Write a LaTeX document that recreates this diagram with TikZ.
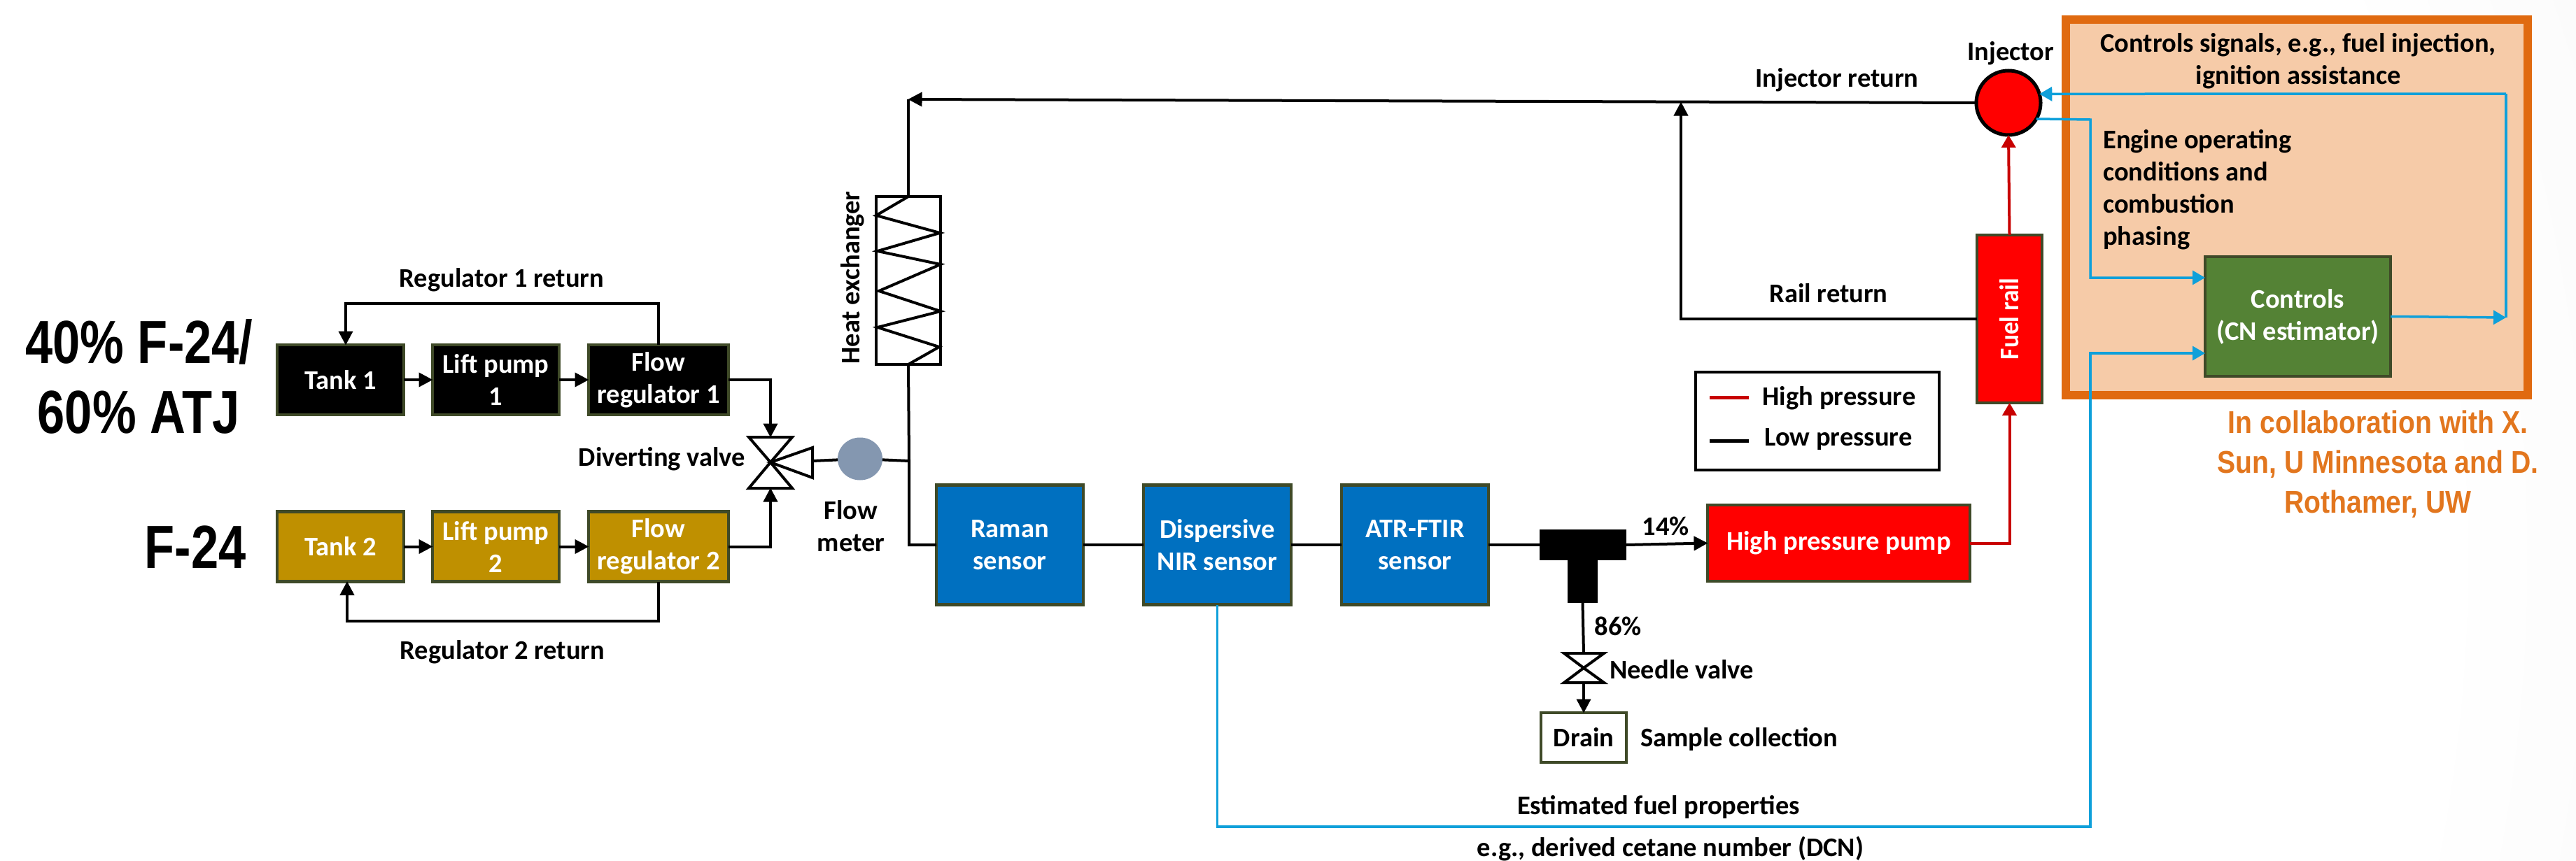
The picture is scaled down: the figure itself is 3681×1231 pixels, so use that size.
\documentclass[tikz,border=0pt]{standalone}
\usepackage{fontspec}
\setmainfont{Carlito}
\newfontfamily\narrowbold[FakeStretch=0.81]{Liberation Sans Bold}
\newfontfamily\orangebold[FakeStretch=0.87]{Liberation Sans Bold}
\usetikzlibrary{arrows.meta,shapes.geometric}
\definecolor{boxedge}{HTML}{3F4A28}
\definecolor{orangeedge}{HTML}{E06A10}
\definecolor{orangefill}{HTML}{F6CBA8}
\definecolor{orangetext}{HTML}{E2761E}
\definecolor{sigblue}{HTML}{0FA0DA}
\definecolor{hpred}{HTML}{C80000}
\definecolor{sensorblue}{HTML}{0070C0}
\definecolor{gold}{HTML}{BF9000}
\definecolor{ctrlgreen}{HTML}{548235}
\definecolor{metergrey}{HTML}{8497B0}
\pgfdeclareradialshading{bgshade}{\pgfpoint{0bp}{0bp}}{color(0bp)=(white); color(21bp)=(white); color(50bp)=(black!14)}
\tikzset{
  lab/.style={font=\bfseries\fontsize{38.5}{46}\selectfont,inner sep=0pt,align=center},
  leftlab/.style={lab,align=left,anchor=west},
  block/.style={draw=boxedge,line width=4.5pt,inner sep=0pt,outer sep=0pt,text=white,align=center,font=\bfseries\fontsize{38.5}{46}\selectfont},
  blackblock/.style={block,fill=black},
  goldblock/.style={block,fill=gold},
  sensorblock/.style={block,fill=sensorblue},
  redblock/.style={block,fill=red},
  pipe/.style={draw=black,line width=4pt},
  arr/.style={pipe,-{Triangle[length=20pt,width=20pt]},shorten >=-0.5pt},
  hparr/.style={draw=hpred,line width=4pt,-{Triangle[length=18pt,width=20pt]}},
  sigarr/.style={draw=sigblue,line width=3.5pt,-{Triangle[length=18pt,width=20pt]}},
  sigline/.style={draw=sigblue,line width=3.5pt},
  valveline/.style={draw=black,line width=4pt,line join=miter},
  headtext/.style={font=\narrowbold\fontsize{87}{100}\selectfont,inner sep=0pt,align=center},
  creditlab/.style={font=\orangebold\fontsize{45}{57}\selectfont,text=orangetext,inner sep=0pt,align=center},
}
\begin{document}
\begin{tikzpicture}[x=1pt,y=-1pt]
\useasboundingbox (0,0) rectangle (3681,1231);
\begin{scope}
\clip (0,0) rectangle (3681,1231);
\shade[shading=bgshade] (1300,800) circle (2600);
\end{scope}

% controls panel
\node[draw=orangeedge,fill=orangefill,line width=12pt,minimum width=660pt,minimum height=537pt,inner sep=0pt] (panel) at (3282,296.5) {};

% blocks
\node[blackblock,minimum width=181pt,minimum height=100pt] (tank1) at (486.5,543) {Tank 1};
\node[blackblock,minimum width=181pt,minimum height=100pt] (lift1) at (708.5,543) {Lift pump\\1};
\node[blackblock,minimum width=200pt,minimum height=100pt] (reg1) at (941,543) {Flow\\regulator 1};
\node[goldblock,minimum width=181pt,minimum height=100pt] (tank2) at (486.5,781.5) {Tank 2};
\node[goldblock,minimum width=181pt,minimum height=100pt] (lift2) at (708.5,781.5) {Lift pump\\2};
\node[goldblock,minimum width=200pt,minimum height=100pt] (reg2) at (941,781.5) {Flow\\regulator 2};
\node[sensorblock,minimum width=210pt,minimum height=171pt] (raman) at (1443,779) {Raman\\sensor};
\node[sensorblock,minimum width=211pt,minimum height=171pt] (disp) at (1739.5,779) {Dispersive\\NIR sensor};
\node[sensorblock,minimum width=210pt,minimum height=171pt] (atr) at (2022,779) {ATR-FTIR\\sensor};
\node[redblock,minimum width=375pt,minimum height=109pt] (hpp) at (2627.5,776.5) {High pressure pump};
\node[redblock,minimum width=93pt,minimum height=240pt] (rail) at (2871.5,456) {\rotatebox{90}{\scalebox{0.92}[1]{Fuel rail}}};
\node[block,fill=ctrlgreen,minimum width=265pt,minimum height=171pt] (ctrl) at (3283.5,452.5) {Controls\\(CN estimator)};
\node[block,fill=white,text=black,minimum width=122pt,minimum height=71pt] (drain) at (2263,1054.5) {Drain};
\node[circle,draw=black,fill=red,line width=5pt,minimum size=92pt,inner sep=0pt,outer sep=0pt] (inj) at (2870,147) {};
\node[ellipse,fill=metergrey,minimum width=64pt,minimum height=61pt,inner sep=0pt,outer sep=0pt] (meter) at (1229,656) {};
\node[draw=black,line width=4pt,minimum width=92pt,minimum height=240pt,inner sep=0pt,outer sep=0pt] (hx) at (1298,401) {};
\node[fill=black,minimum width=124pt,minimum height=44pt,inner sep=0pt,outer sep=0pt] (teetop) at (2262,779) {};
\node[fill=black,minimum width=43pt,minimum height=61pt,inner sep=0pt,outer sep=0pt] (teestem) at (2261.5,831.5) {};
\node[draw=black,fill=white,line width=4pt,minimum width=348pt,minimum height=140pt,inner sep=0pt,outer sep=0pt] (legend) at (2597,602) {};

% heat exchanger coil
\draw[line width=4pt] (1298,281) -- (1252,308) -- (1343,333) -- (1254,359) -- (1344,378) -- (1256,416) -- (1344,445) -- (1254,468) -- (1342,496) -- (1298,521);

% diverting valve
\coordinate (vtop) at (1101,625);
\coordinate (vbot) at (1101,698);
\coordinate (vmid) at (1101,661);
\coordinate (vout) at (1161,659);
\draw[valveline] (1070,625) -- (1132,625) -- (vmid) -- cycle;
\draw[valveline] (1070,698) -- (1132,698) -- (vmid) -- cycle;
\draw[valveline] (1161,640) -- (1161,683) -- (vmid) -- cycle;

% needle valve
\coordinate (ntop) at (2263,934);
\coordinate (nbot) at (2263,976);
\coordinate (nmid) at (2263,955);
\draw[valveline] (2235,934) -- (2292,934) -- (nmid) -- cycle;
\draw[valveline] (2235,976) -- (2292,976) -- (nmid) -- cycle;

% feed lines
\draw[arr] (tank1) -- (lift1);
\draw[arr] (lift1) -- (reg1);
\draw[arr] (tank2) -- (lift2);
\draw[arr] (lift2) -- (reg2);
\draw[arr] (reg1.east) -| (vtop);
\draw[arr] (reg2.east) -| (vbot);
\coordinate (r1) at (494,434);
\coordinate (r2) at (496,888);
\draw[arr] (reg1.north) |- (r1) -- (tank1.north -| r1);
\draw[arr] (reg2.south) |- (r2) -- (tank2.south -| r2);

% main line
\coordinate (junction) at (1299,659);
\coordinate (corner) at (1298,142);
\draw[pipe] (vout) -- (meter);
\draw[pipe] (meter) -- (junction);
\draw[pipe] (hx.south) -- (junction) |- (raman.west);
\draw[pipe] (raman) -- (disp);
\draw[pipe] (disp) -- (atr);
\draw[pipe] (atr) -- (teetop);
\draw[arr] (teetop.east) -- (hpp.west);
\draw[pipe] (teestem.south) -- (ntop);
\draw[arr] (nbot) -- (drain.north);
\draw[pipe] (hx.north) -- (corner);
\draw[arr] (inj.west) -- (corner);
\coordinate (railjoin) at (2402,146);
\draw[arr] (rail.west) -| (railjoin);

% high pressure
\draw[hparr] (hpp.east) -| (rail.south);
\draw[hparr] (rail.north) -- (inj.south);

% signals
\coordinate (s1) at (2987,171);
\coordinate (s2) at (3151,397);
\draw[sigarr] (inj.-30) -- (s1) |- (ctrl.west |- s2);
\coordinate (s3) at (3581,454);
\coordinate (s4) at (3581,134);
\draw[sigarr] (ctrl.east) -- (s3);
\draw[sigline] (s3) -- (s4);
\draw[sigarr] (s4) -- (inj.16);
\coordinate (s5) at (2987,1182);
\coordinate (s6) at (3151,505);
\draw[sigarr] (disp.south) |- (s5) |- (ctrl.west |- s6);

% legend lines
\coordinate (la) at (2443,568);
\coordinate (lb) at (2499,568);
\coordinate (lc) at (2443,630);
\coordinate (ld) at (2499,630);
\draw[draw=hpred,line width=5pt] (la) -- (lb);
\draw[pipe,line width=5pt] (lc) -- (ld);

% labels
\node[lab] (lreg1) at (717,400) {Regulator 1 return};
\node[lab] (lreg2) at (718,932) {Regulator 2 return};
\node[lab] (ldiv) at (946,656) {Diverting valve};
\node[lab] (lmeter) at (1216,752) {Flow\\meter};
\node[lab,rotate=90] (lhx) at (1218,397) {Heat exchanger};
\node[lab] (l14) at (2380,752) {14\%};
\node[lab] (l86) at (2312,895) {86\%};
\node[leftlab] (lneedle) at (2300,957) {Needle valve};
\node[leftlab] (lsample) at (2344,1057) {Sample collection};
\node[lab] (lest) at (2370,1154) {Estimated fuel properties};
\node[lab] (ldcn) at (2387,1213) {e.g., derived cetane number (DCN)};
\node[lab] (linj) at (2873,76) {Injector};
\node[lab] (linjret) at (2625,114) {Injector return};
\node[lab] (lrail) at (2613,419) {Rail return};
\node[lab] (lhigh) at (2628,569) {High pressure};
\node[lab] (llow) at (2627,628) {Low pressure};
\node[lab] (lsig) at (3284,87) {Controls signals, e.g., fuel injection,\\ignition assistance};
\node[leftlab] (leng) at (3005,271) {Engine operating\\conditions and\\combustion\\phasing};
\node[headtext] (h1) at (199,489) {40\% F-24/};
\node[headtext] (h2) at (198,590) {60\% ATJ};
\node[headtext] (h3) at (279,782) {F-24};
\node[creditlab] (credit) at (3398,664) {In collaboration with X.\\Sun, U Minnesota and D.\\Rothamer, UW};
\end{tikzpicture}
\end{document}
